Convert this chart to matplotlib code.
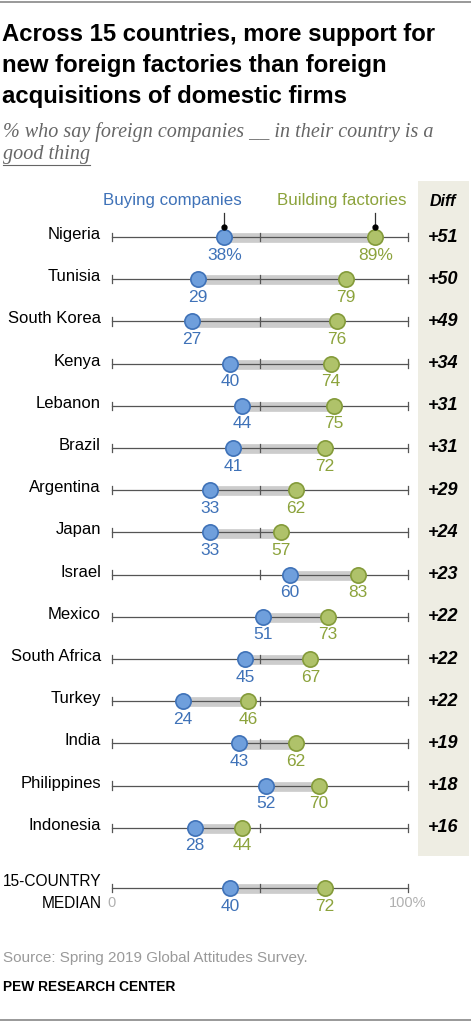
import matplotlib.pyplot as plt

countries = ['Nigeria', 'Tunisia', 'South Korea', 'Kenya', 'Lebanon', 'Brazil',
             'Argentina', 'Japan', 'Israel', 'Mexico', 'South Africa', 'Turkey',
             'India', 'Philippines', 'Indonesia']
buying = [38, 29, 27, 40, 44, 41, 33, 33, 60, 51, 45, 24, 43, 52, 28]
building = [89, 79, 76, 74, 75, 72, 62, 57, 83, 73, 67, 46, 62, 70, 44]
diffs = ['+51', '+50', '+49', '+34', '+31', '+31', '+29', '+24', '+23', '+22',
         '+22', '+22', '+19', '+18', '+16']
median_buying = 40
median_building = 72

BLUE = '#6f9fdc'
BLUE_E = '#3f72b8'
BLUE_T = '#3f72b8'
GREEN = '#afc26a'
GREEN_E = '#849b3a'
GREEN_T = '#8ca33c'
FONT = 'Liberation Sans'

W, H = 471, 1023
fig = plt.figure(figsize=(W / 100, H / 100), dpi=100)

# axes spanning whole figure; x in percent, y in row units
x0_px, x100_px = 112, 408
row0_px, row_step = 237, 42.2
px_per_pct = (x100_px - x0_px) / 100
ax = fig.add_axes([0, 0, 1, 1])
ax.set_xlim(-x0_px / px_per_pct, (W - x0_px) / px_per_pct)
ax.set_ylim((H - row0_px) / row_step, -row0_px / row_step)
ax.axis('off')

def px_y(p):
    return (p - row0_px) / row_step

def px_x(p):
    return (p - x0_px) / px_per_pct

# diff panel background
ax.fill_between([px_x(418), px_x(469)], px_y(181), px_y(856), color='#eeede3', lw=0, zorder=0)
ax.text(px_x(443), px_y(202), 'Diff', ha='center', va='center', fontsize=11.5,
        fontweight='bold', style='italic', family=FONT)

median_y = px_y(888)
rows = list(range(len(countries))) + [median_y]
all_buy = buying + [median_buying]
all_build = building + [median_building]

for i, y in enumerate(rows):
    b, g = all_buy[i], all_build[i]
    ax.plot([b, g], [y + 0.03, y + 0.03], color='#cccccc', lw=7, solid_capstyle='butt', zorder=2)
    ax.plot([0, 100], [y, y], color='#555555', lw=0.9, zorder=3)
    for t in (0, 50, 100):
        ax.plot([t, t], [y - 0.1, y + 0.1], color='#555555', lw=0.9, zorder=3)
    ax.plot([b], [y], 'o', ms=11, mfc=BLUE, mec=BLUE_E, mew=1.2, zorder=4)
    ax.plot([g], [y], 'o', ms=11, mfc=GREEN, mec=GREEN_E, mew=1.2, zorder=4)
    suffix = '%' if i == 0 else ''
    ax.text(b, y + 0.43, f'{b}{suffix}', ha='center', va='center', color=BLUE_T,
            fontsize=12.5, family=FONT)
    ax.text(g, y + 0.43, f'{g}{suffix}', ha='center', va='center', color=GREEN_T,
            fontsize=12.5, family=FONT)
    if i < len(countries):
        ax.text(px_x(101), y - 0.06, countries[i], ha='right', va='center', fontsize=12, family=FONT)
        ax.text(px_x(443), y, diffs[i], ha='center', va='center', fontsize=13,
                fontweight='bold', style='italic', family=FONT)

ax.text(px_x(102), px_y(882), '15-COUNTRY', ha='right', va='center', fontsize=11.2, family=FONT)
ax.text(px_x(102), px_y(903), 'MEDIAN', ha='right', va='center', fontsize=11.2, family=FONT)
ax.text(0, px_y(903), '0', ha='center', va='center', color='#b0b0b0', fontsize=10.5, family=FONT)
ax.text(100, px_y(903), '100%', ha='center', va='center', color='#b0b0b0', fontsize=10.5, family=FONT)

# legend labels with pointers
ax.text(px_x(172), px_y(201), 'Buying companies', ha='center', va='center', color=BLUE_T,
        fontsize=12.2, family=FONT)
ax.text(px_x(342), px_y(201), 'Building factories', ha='center', va='center', color=GREEN_T,
        fontsize=12.2, family=FONT)
for v in (buying[0], building[0]):
    ax.plot([v, v], [px_y(213), px_y(227)], color='#333333', lw=0.9, zorder=5)
    ax.plot([v], [px_y(227)], 'o', ms=3.5, color='black', zorder=5)

# title and notes
title_lines = ['Across 15 countries, more support for', 'new foreign factories than foreign',
               'acquisitions of domestic firms']
for k, line in enumerate(title_lines):
    fig.text(2 / W, 1 - (35 + 30.5 * k) / H, line, ha='left', va='center', fontsize=17.2,
             fontweight='bold', family=FONT)
fig.text(3 / W, 1 - 132 / H, '% who say foreign companies __ in their country is a',
         ha='left', va='center', fontsize=14.5, style='italic', color='#666666', family='Liberation Serif')
fig.text(3 / W, 1 - 155 / H, 'good thing', ha='left', va='center', fontsize=14.5, style='italic',
         color='#666666', family='Liberation Serif')
ax.plot([px_x(3), px_x(90)], [px_y(165), px_y(165)], color='#666666', lw=0.8)

fig.text(3 / W, 1 - 958 / H, 'Source: Spring 2019 Global Attitudes Survey.', ha='left', va='center',
         fontsize=11, color='#9a9a9a', family=FONT)
fig.text(3 / W, 1 - 987 / H, 'PEW RESEARCH CENTER', ha='left', va='center', fontsize=9.9,
         fontweight='bold', family=FONT)

ax.plot([px_x(0), px_x(W)], [px_y(2), px_y(2)], color='#888888', lw=1.2)
ax.plot([px_x(0), px_x(W)], [px_y(1020), px_y(1020)], color='#888888', lw=1.2)

fig.savefig('out.png', dpi=100)
